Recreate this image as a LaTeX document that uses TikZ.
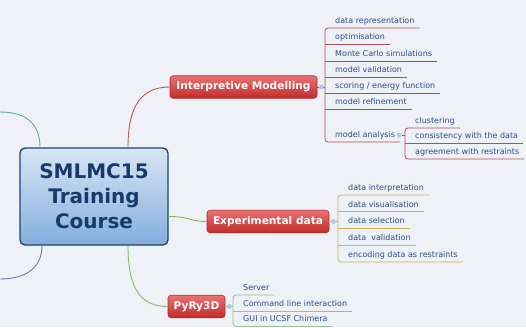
\documentclass[tikz,border=0pt]{standalone}
\usepackage{fontspec}
\setmainfont{DejaVu Sans}

\definecolor{bg}{HTML}{EEF1F6}
\definecolor{rootedge}{HTML}{22426F}
\definecolor{roottop}{HTML}{D7E6F5}
\definecolor{rootbottom}{HTML}{84AEDC}
\definecolor{roottext}{HTML}{173A6B}
\definecolor{topicedge}{HTML}{B02A2A}
\definecolor{topictop}{HTML}{E87272}
\definecolor{topicbottom}{HTML}{C22C2C}
\definecolor{leaftext}{HTML}{2D4D86}
\definecolor{knob}{HTML}{B3C8E6}
\definecolor{imcol}{HTML}{A8505E}
\definecolor{excol}{HTML}{C9B35A}
\definecolor{pycol}{HTML}{90C490}
\definecolor{curvered}{HTML}{B85A5A}
\definecolor{curveolive}{HTML}{A9A64A}
\definecolor{curvegreen}{HTML}{86BB70}
\definecolor{curveteal}{HTML}{6AAAA4}
\definecolor{curvepurple}{HTML}{7A74B4}

\begin{document}
\begin{tikzpicture}[x=1pt,y=-1pt,
  root/.style={draw=rootedge, line width=1.3pt, rounded corners=5pt,
    top color=roottop, bottom color=rootbottom,
    minimum width=148pt, minimum height=97pt, align=center, inner sep=0pt,
    text=roottext, font=\fontsize{20}{25}\selectfont\bfseries},
  maintopic/.style={draw=topicedge, line width=0.6pt, rounded corners=3pt,
    top color=topictop, bottom color=topicbottom, text=white,
    font=\fontsize{10.6}{12}\selectfont\bfseries,
    minimum height=22.5pt, inner xsep=5pt},
  leaf/.style={anchor=south west, inner xsep=5pt, inner ysep=4.5pt,
    text height=6pt, text depth=0pt, text=leaftext,
    font=\fontsize{8}{9.6}\selectfont},
  knobnode/.style={circle, fill=knob, inner sep=0pt, minimum size=5pt},
  branch/.style={line width=0.9pt},
  bracket/.style={line width=0.8pt, rounded corners=3pt},
  underline/.style={line width=0.8pt}
]
\fill[bg] (0,0) rectangle (526,327);
\useasboundingbox (0,0) rectangle (526,327);

% central topic and main branches
\node[root] (c) at (94,196.5) {SMLMC15\\Training\\Course};
\node[maintopic, minimum width=147pt] (im) at (243.5,87) {Interpretive Modelling};
\node[maintopic, minimum width=122pt] (ex) at (268,221.5) {Experimental data};
\node[maintopic, minimum width=57pt] (py) at (196.5,306.5) {PyRy3D};

% loose ends of the branches leaving on the left
\coordinate (lt) at (0,112);
\coordinate (lb) at (0,279);

\draw[branch, curveteal] (lt) .. controls +(28,0) and +(0,-22) .. ([xshift=-54pt]c.north);
\draw[branch, curvepurple] ([xshift=-52pt]c.south) .. controls +(0,22) and +(26,0) .. (lb);
\draw[branch, curvered] ([xshift=34pt]c.north) .. controls +(0,-42) and +(-28,0) .. (im.west);
\draw[branch, curvegreen] ([xshift=34pt]c.south) .. controls +(0,42) and +(-28,0) .. (py.west);
\draw[branch, curveolive] ([yshift=-20pt]c.east) .. controls +(22,0) and +(-18,0) .. (ex.west);

% bracket positions
\coordinate (imb) at (325,0);
\coordinate (smb) at (405,0);
\coordinate (exb) at (338,0);
\coordinate (pyb) at (233,0);

% Interpretive Modelling subtopics
\node[leaf] (im1) at (330,28) {data representation};
\node[leaf] (im2) at (330,44.5) {optimisation};
\node[leaf] (im3) at (330,61) {Monte Carlo simulations};
\node[leaf] (im4) at (330,77) {model validation};
\node[leaf] (im5) at (330,93) {scoring / energy function};
\node[leaf] (im6) at (330,109) {model refinement};
\node[leaf] (im7) at (330,142) {model analysis};

\draw[bracket, imcol] (im1.south east) -- (imb |- im1.south) -- (imb |- im7.south) -- (im7.south east);
\foreach \n in {im2,im3,im4,im5,im6}
  \draw[underline, imcol] (imb |- \n.south) -- (\n.south east);
\draw[underline, imcol] (im.east) -- (im.east -| imb);
\node[knobnode] (k1) at ([xshift=4pt]im.east) {};

% model analysis subtopics
\node[leaf] (ma1) at (410,128) {clustering};
\node[leaf] (ma2) at (410,143.5) {consistency with the data};
\node[leaf] (ma3) at (410,159) {agreement with restraints};

\draw[bracket, imcol] (ma1.south east) -- (smb |- ma1.south) -- (smb |- ma3.south) -- (ma3.south east);
\draw[underline, imcol] (smb |- ma2.south) -- (ma2.south east);
\node[knobnode] (k4) at ([xshift=-1pt,yshift=7pt]im7.south east) {};
\draw[underline, imcol] (k4.east) -- (k4 -| smb);

% Experimental data subtopics
\node[leaf] (ex1) at (343,195) {data interpretation};
\node[leaf] (ex2) at (343,211.75) {data visualisation};
\node[leaf] (ex3) at (343,228.5) {data selection};
\node[leaf] (ex4) at (343,245.25) {data\ \ validation};
\node[leaf] (ex5) at (343,262) {encoding data as restraints};

\draw[bracket, excol] (ex1.south east) -- (exb |- ex1.south) -- (exb |- ex5.south) -- (ex5.south east);
\foreach \n in {ex2,ex3,ex4}
  \draw[underline, excol] (exb |- \n.south) -- (\n.south east);
\draw[underline, excol] (ex.east) -- (ex.east -| exb);
\node[knobnode] (k2) at ([xshift=4pt]ex.east) {};

% PyRy3D subtopics
\node[leaf] (py1) at (238,295) {Server};
\node[leaf] (py2) at (238,311.5) {Command line interaction};
\node[leaf] (py3) at (238,326.5) {GUI in UCSF Chimera};

\draw[bracket, pycol] (py1.south east) -- (pyb |- py1.south) -- (pyb |- py3.south) -- (py3.south east);
\draw[underline, pycol] (pyb |- py2.south) -- (py2.south east);
\draw[underline, pycol] (py.east) -- (py.east -| pyb);
\node[knobnode] (k3) at ([xshift=4pt]py.east) {};
\end{tikzpicture}
\end{document}
